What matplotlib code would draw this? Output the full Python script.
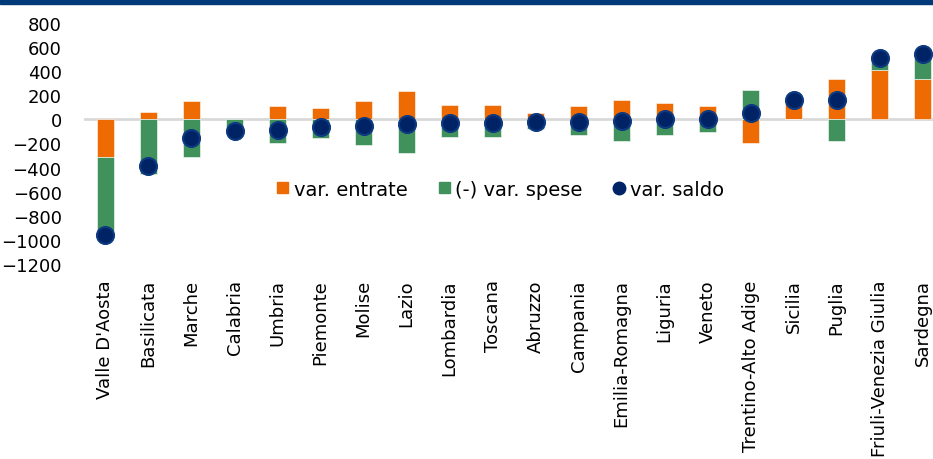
import numpy as np
import matplotlib.pyplot as plt
from matplotlib.lines import Line2D
from matplotlib.patches import Rectangle

# --------- dati ---------
regioni = ["Valle D'Aosta", "Basilicata", "Marche", "Calabria", "Umbria",
           "Piemonte", "Molise", "Lazio", "Lombardia", "Toscana", "Abruzzo",
           "Campania", "Emilia-Romagna", "Liguria", "Veneto",
           "Trentino-Alto Adige", "Sicilia", "Puglia",
           "Friuli-Venezia Giulia", "Sardegna"]
var_entrate = [-312, 64, 155, 0, 108, 95, 149, 238, 116, 122, 53, 111, 163,
               133, 114, -196, 158, 338, 407, 335]
var_spese = [-651, -452, -310, -96, -195, -155, -210, -279, -149, -149, -78,
             -133, -177, -129, -108, 246, 0, -183, 100, 210]  # (-) var. spese
var_saldo = [-963, -386, -154, -94, -87, -60, -58, -41, -30, -30, -25, -22,
             -15, 6, 6, 53, 158, 158, 506, 543]

ARANCIO = "#EE6A02"
VERDE = "#41915D"
BLU = "#002366"

plt.rcParams['font.family'] = ['DejaVu Sans']

fig = plt.figure(figsize=(9.33, 4.6), dpi=100)
ax = fig.add_axes([0.090, 0.424, 0.922, 0.524])

x = np.arange(len(regioni))
e = np.array(var_entrate)
s = np.array(var_spese)
# la parte verde si impila sull'arancione solo se ha lo stesso segno
base = np.where(np.sign(s) == np.sign(e), e, 0)

ax.axhline(0, color="#D9D9D9", lw=2, zorder=1)
ax.bar(x, e, width=0.4, color=ARANCIO, edgecolor="white", linewidth=0.4, zorder=2)
ax.bar(x, s, bottom=base, width=0.4, color=VERDE, edgecolor="white", linewidth=0.4, zorder=2)
ax.scatter(x, var_saldo, s=150, color=BLU, edgecolor="#0D3A80", linewidth=1.5, zorder=3)

ax.set_xlim(-0.5, len(regioni) - 0.5)
ax.set_ylim(-1200, 800)
ax.set_yticks(np.arange(-1200, 801, 200))
ax.set_xticks(x)
ax.set_xticklabels(regioni, rotation=90, fontsize=13)
ax.tick_params(axis="x", length=0, pad=11)
ax.tick_params(axis="y", length=0, pad=16, labelsize=13)
for sp in ax.spines.values():
    sp.set_visible(False)

handles = [Rectangle((0, 0), 1, 1, color=ARANCIO),
           Rectangle((0, 0), 1, 1, color=VERDE),
           Line2D([], [], ls="none", marker="o", markersize=9, color=BLU)]
fig.legend(handles, ["var. entrate", "(-) var. spese", "var. saldo"],
           loc="center", bbox_to_anchor=(0.537, 1 - 190 / 460), ncol=3,
           frameon=False, fontsize=14, handlelength=0.55, handleheight=0.55,
           handletextpad=0.3, columnspacing=1.6)

# fascia blu in alto
fig.patches.append(Rectangle((0, 1 - 5 / 460), 1, 5 / 460, transform=fig.transFigure,
                             color="#003A78", zorder=5))

fig.savefig("out.png", dpi=100)
